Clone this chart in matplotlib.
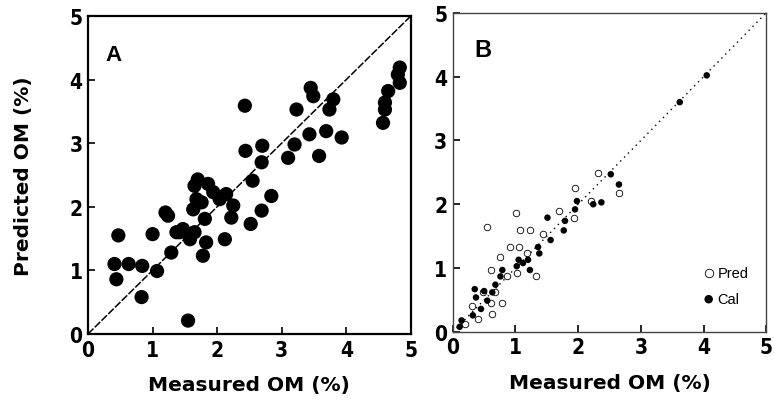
import matplotlib
matplotlib.use("Agg")
import matplotlib.pyplot as plt

# Panel A: measured vs predicted OM
a_measured = [0.47, 0.41, 0.44, 0.63, 0.84, 0.83, 1.00, 1.07, 1.55, 1.24,
              1.29, 1.37, 1.47, 1.58, 1.63, 1.68, 1.70, 1.86, 1.81, 1.83,
              1.78, 1.65, 2.04, 2.14, 2.25, 2.22, 2.12, 2.43, 2.44, 2.55,
              2.52, 2.70, 2.69, 2.84, 2.69, 3.23, 3.45, 3.49, 3.20, 3.10,
              3.43, 3.58, 3.69, 3.80, 3.74, 3.93, 4.57, 4.60, 4.65, 4.83,
              4.83, 4.80, 4.60, 1.94, 1.65, 1.76, 1.42, 1.20]
a_predicted = [1.55, 1.10, 0.86, 1.10, 1.07, 0.58, 1.57, 0.99, 0.21, 1.86,
               1.28, 1.60, 1.65, 1.49, 1.96, 2.12, 2.43, 2.36, 1.81, 1.44,
               1.23, 1.60, 2.12, 2.20, 2.02, 1.83, 1.49, 3.59, 2.88, 2.41,
               1.73, 2.96, 2.70, 2.17, 1.94, 3.53, 3.87, 3.74, 2.98, 2.77,
               3.14, 2.80, 3.19, 3.69, 3.53, 3.09, 3.32, 3.64, 3.82, 4.19,
               3.95, 4.08, 3.53, 2.23, 2.33, 2.07, 1.60, 1.91]

# Panel B: calibration (filled) and prediction (open) sets
cal_measured = [4.05, 2.52, 1.98, 1.95, 1.51, 1.79, 1.77, 1.56, 1.36, 1.38,
                1.20, 1.12, 1.02, 1.05, 0.79, 0.76, 0.35, 0.37, 0.50, 0.68,
                0.63, 0.55, 0.45, 0.32, 0.11, 0.14, 2.24, 2.37, 2.65, 1.23,
                3.62]
cal_predicted = [4.02, 2.47, 2.05, 1.92, 1.79, 1.74, 1.59, 1.44, 1.33, 1.23,
                 1.13, 1.08, 1.03, 1.13, 0.97, 0.87, 0.67, 0.54, 0.64, 0.74,
                 0.62, 0.49, 0.36, 0.26, 0.08, 0.18, 2.00, 2.03, 2.31, 0.97,
                 3.60]
pred_measured = [1.01, 0.55, 2.32, 2.65, 2.21, 1.69, 1.93, 1.23, 1.07, 0.92,
                 1.05, 0.76, 0.61, 1.02, 1.33, 0.48, 0.68, 0.79, 0.61, 0.30,
                 0.40, 0.63, 0.19, 0.87, 1.18, 1.44, 1.95]
pred_predicted = [1.87, 1.64, 2.49, 2.18, 2.05, 1.90, 1.79, 1.59, 1.59, 1.33,
                  1.33, 1.18, 0.97, 0.92, 0.87, 0.62, 0.62, 0.46, 0.46, 0.41,
                  0.21, 0.28, 0.13, 0.87, 1.23, 1.54, 2.26]

ticks = [0, 1, 2, 3, 4, 5]
tick_fonts = ["Liberation Sans Narrow", "DejaVu Sans Condensed", "DejaVu Sans"]

fig = plt.figure(figsize=(7.74, 4.06), dpi=100)
ax_a = fig.add_axes([0.1137, 0.175, 0.417, 0.783])
ax_b = fig.add_axes([0.585, 0.180, 0.405, 0.786])

# --- A
ax_a.scatter(a_measured, a_predicted, s=105, color="black", edgecolors="none", zorder=3)
ax_a.plot([0, 5], [0, 5], color="black", lw=1.1, ls=(0, (5, 1.2)), zorder=2)
ax_a.text(0.055, 0.88, "A", transform=ax_a.transAxes, fontsize=16,
          fontweight="bold", family="Liberation Sans", ha="left", va="center")
ax_a.set_ylabel("Predicted OM (%)", fontsize=14.5, fontweight="bold", labelpad=26)
for s in ax_a.spines.values():
    s.set_linewidth(1.6)

# --- B
ax_b.plot([0, 5], [0, 5], color="black", lw=1.0, ls=(0, (1, 3)), zorder=2)
ax_b.scatter(pred_measured, pred_predicted, s=22, facecolors="white",
             edgecolors="black", linewidths=0.6, zorder=3, label="Pred")
ax_b.scatter(cal_measured, cal_predicted, s=22, color="black",
             edgecolors="none", zorder=4, label="Cal")
ax_b.text(0.07, 0.885, "B", transform=ax_b.transAxes, fontsize=17,
          fontweight="bold", family="Liberation Sans", ha="left", va="center")
ax_b.legend(loc="lower right", bbox_to_anchor=(0.985, 0.04), frameon=False,
            handletextpad=0.0, handlelength=1.2, labelspacing=0.85, markerscale=1.3,
            prop={"family": "Liberation Sans", "size": 10.5})
for s in ax_b.spines.values():
    s.set_linewidth(1.0)
    s.set_color("#444444")

for ax in (ax_a, ax_b):
    ax.set_xlim(0, 5)
    ax.set_ylim(0, 5)
    ax.set_xticks(ticks)
    ax.set_yticks(ticks)
    ax.tick_params(direction="in", length=5, width=1.2, pad=4)
    for lab in ax.get_xticklabels() + ax.get_yticklabels():
        lab.set_family(tick_fonts)
        lab.set_stretch("condensed")
        lab.set_fontweight("bold")
        lab.set_fontsize(15)
    ax.set_xlabel("Measured OM (%)", fontsize=14.5, fontweight="bold", labelpad=11)

fig.savefig("out.png", dpi=100)
